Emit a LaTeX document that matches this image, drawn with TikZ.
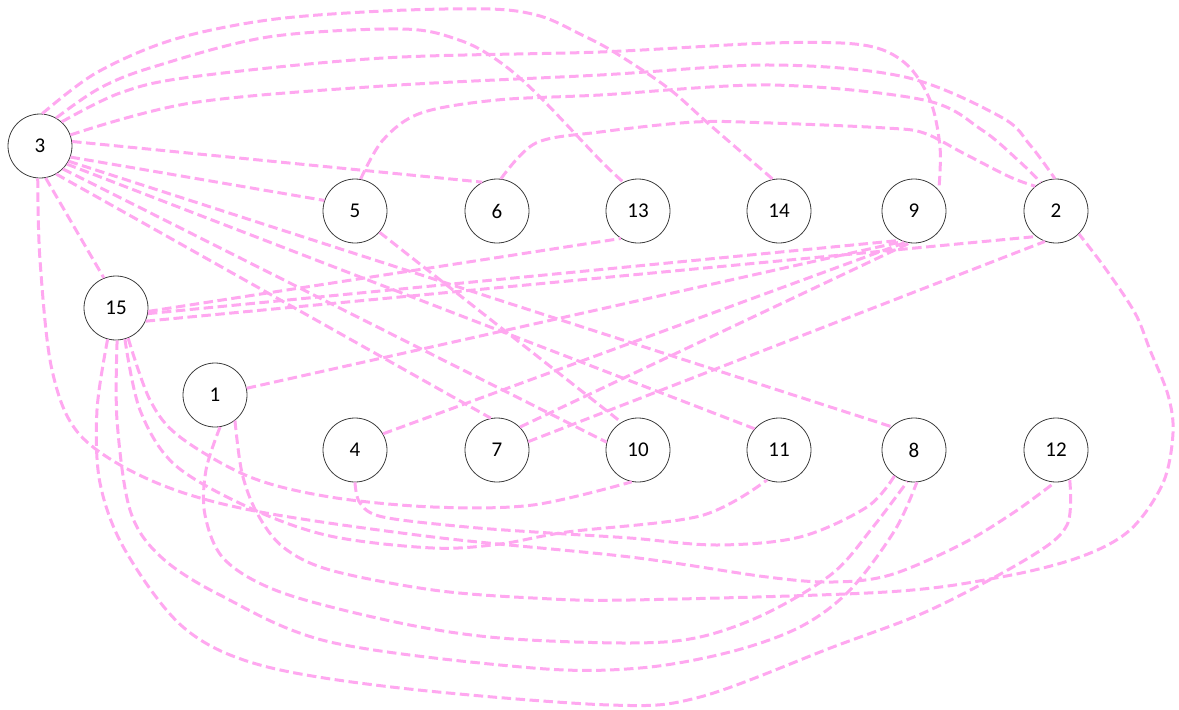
\documentclass[tikz,border=0pt]{standalone}
\usepackage{fontspec}
\setmainfont{Carlito}
\definecolor{linkpink}{RGB}{255,168,240}
\definecolor{ringgray}{RGB}{60,60,60}
\begin{document}
\begin{tikzpicture}[x=1pt,y=-1pt,
  vertex/.style={circle,draw=ringgray,line width=0.8pt,minimum size=64pt,inner sep=0pt,font=\fontsize{21}{25}\selectfont},
  link/.style={draw=linkpink,line width=3pt,dash pattern=on 9.5pt off 4.5pt},
  curvy/.style={smooth,tension=0.55}]
\useasboundingbox (0,0) rectangle (1179,710);
% nodes
\node[vertex] (n3)  at (40,146)  {3};
\node[vertex] (n5)  at (355,211) {5};
\node[vertex] (n6)  at (497,211) {6};
\node[vertex] (n13) at (638,211) {13};
\node[vertex] (n14) at (779,211) {14};
\node[vertex] (n9)  at (914,211) {9};
\node[vertex] (n2)  at (1056,211) {2};
\node[vertex] (n15) at (116,308) {15};
\node[vertex] (n1)  at (215,395) {1};
\node[vertex] (n4)  at (355,450) {4};
\node[vertex] (n7)  at (497,450) {7};
\node[vertex] (n10) at (638,450) {10};
\node[vertex] (n11) at (779,450) {11};
\node[vertex] (n8)  at (914,450) {8};
\node[vertex] (n12) at (1056,450) {12};
% upper arcs
\draw[link] plot[curvy] coordinates {(n3.86) (96,73) (172,40) (268,20) (383,11) (490,9) (540,16) (580,34) (614,52) (668,88) (710,125) (n14.101)};
\draw[link] plot[curvy] coordinates {(n3.60) (100,88) (153,67) (268,37) (402,29) (459,40) (497,60) (536,93) (600,160) (n13.117)};
\draw[link] plot[curvy] coordinates {(n3.48) (120,93) (191,77) (383,58) (600,52) (771,43) (863,45) (905,63) (930,100) (940,147) (n9.40)};
\draw[link] plot[curvy] coordinates {(n3.20) (191,103) (383,86) (600,75) (771,65) (905,77) (1001,117) (1030,145) (n2.92)};
\draw[link] plot[curvy] coordinates {(n5.80) (383,140) (421,113) (497,100) (600,95) (771,85) (924,100) (982,130) (1020,162) (n2.118)};
\draw[link] plot[curvy] coordinates {(n6.83) (536,143) (600,132) (695,122) (771,123) (886,128) (924,133) (963,153) (1010,177) (n2.130)};
% straight links
\draw[link] (n3.280) -- (n15.112);
\draw[link] (n3.340) -- (n5.161);
\draw[link] (n3.8) -- (n6.117);
\draw[link] (n3.300) -- (n7.101);
\draw[link] (n3.315) -- (n10.166);
\draw[link] (n3.326) -- (n11.139);
\draw[link] (n3.332) -- (n8.134);
\draw[link] (n5.319) -- (n10.121);
\draw[link] (n15.354) -- (n13.238);
\draw[link] (n15.350) -- (n9.245);
\draw[link] (n15.336) -- (n2.232);
\draw[link] (n1.12) -- (n9.250);
\draw[link] (n4.30) -- (n9.255);
\draw[link] (n7.45) -- (n9.262);
\draw[link] (n7.15) -- (n2.250);
% lower curves
\draw[link] plot[curvy] coordinates {(n3.266) (40,260) (52,370) (80,435) (150,480) (250,510) (433,537) (630,557) (767,577) (833,582) (890,575) (960,545) (1013,513) (n12.268)};
\draw[link] plot[curvy] coordinates {(n15.255) (97,410) (100,483) (125,550) (183,627) (260,665) (400,688) (610,705) (700,697) (833,647) (930,610) (1030,557) (1067,525) (n12.295)};
\draw[link] plot[curvy] coordinates {(n15.272) (117,420) (130,510) (160,556) (220,595) (330,642) (533,668) (640,668) (730,652) (800,627) (850,590) (895,530) (n8.275)};
\draw[link] plot[curvy] coordinates {(n15.286) (140,410) (175,465) (250,508) (330,536) (433,548) (500,544) (567,532) (700,516) (n11.248)};
\draw[link] plot[curvy] coordinates {(n15.292) (150,400) (180,437) (250,477) (330,497) (433,507) (533,505) (n10.259)};
\draw[link] plot[curvy] coordinates {(n1.279) (206,470) (205,515) (225,560) (283,593) (400,623) (500,638) (630,643) (700,637) (767,613) (833,573) (873,527) (n8.258)};
\draw[link] plot[curvy] coordinates {(n1.308) (242,473) (257,513) (283,547) (330,570) (433,590) (533,598) (630,600) (886,592) (1001,577) (1080,557) (1130,530) (1163,483) (1173,433) (1168,395) (1150,350) (1135,313) (1105,268) (n2.315)};
\draw[link] plot[curvy] coordinates {(n4.270) (360,503) (383,517) (467,527) (550,533) (630,538) (717,545) (800,537) (867,507) (n8.233)};
\end{tikzpicture}
\end{document}
